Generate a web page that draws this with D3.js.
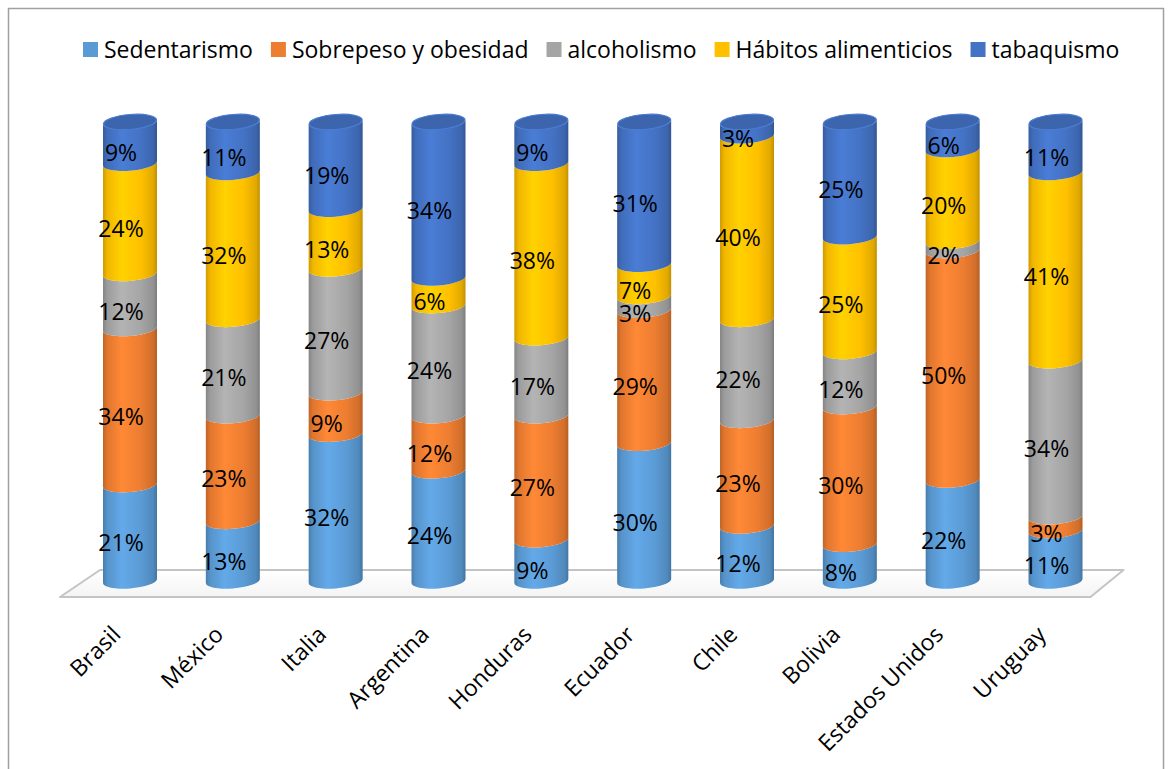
<!DOCTYPE html>
<html><head><meta charset="utf-8">
<script src="https://cdn.jsdelivr.net/npm/d3@7"></script>
<style>html,body{margin:0;padding:0;background:#fff;}svg{display:block;}</style>
</head><body>
<svg id="c" width="1175" height="769"></svg>
<script>
const countries = ["Brasil","México","Italia","Argentina","Honduras","Ecuador","Chile","Bolivia","Estados Unidos","Uruguay"];
const seriesNames = ["Sedentarismo","Sobrepeso y obesidad","alcoholismo","Hábitos alimenticios","tabaquismo"];
const sedentarismo = [21,13,32,24,9,30,12,8,22,11];
const sobrepeso    = [34,23,9,12,27,29,23,30,50,3];
const alcoholismo  = [12,21,27,24,17,3,22,12,2,34];
const habitos      = [24,32,13,6,38,7,40,25,20,41];
const tabaquismo   = [9,11,19,34,9,31,3,25,6,11];
const seriesColors = ["#5B9BD5","#ED7D31","#A5A5A5","#FFC000","#4472C4"];

const seriesValues = [sedentarismo, sobrepeso, alcoholismo, habitos, tabaquismo];
const FONT = "'Open Sans', sans-serif";
const FS = 23;

const svg = d3.select("#c");
const defs = svg.append("defs");

// chart border
svg.append("rect").attr("x",8.5).attr("y",8.5).attr("width",1155).attr("height",800)
  .attr("fill","#fff").attr("stroke","#a0a0a0").attr("stroke-width",1.5);

const x = d3.scalePoint().domain(countries).range([130, 1055.5]);
const y = d3.scaleLinear().domain([0,100]).range([581,122]);
const rx = 27, ry = 7.5;

// gradients
seriesColors.forEach((c,i)=>{
  const g = defs.append("linearGradient").attr("id","g"+i).attr("x1","0%").attr("x2","100%").attr("y1","0%").attr("y2","0%");
  const base = d3.color(c);
  [[0, base.darker(0.6)],[0.08, base.darker(0.15)],[0.35, base.brighter(0.25)],[0.7, base],[0.93, base.darker(0.35)],[1, base.darker(0.8)]]
    .forEach(([o,col])=>g.append("stop").attr("offset",o).attr("stop-color",col.formatHex()));
});
const floorGrad = defs.append("linearGradient").attr("id","floorG").attr("x1","0").attr("x2","0").attr("y1","0").attr("y2","1");
floorGrad.append("stop").attr("offset",0).attr("stop-color","#ffffff");
floorGrad.append("stop").attr("offset",1).attr("stop-color","#f4f4f4");

// floor
const x0 = x(countries[0]), x1 = x(countries[countries.length-1]);
const floorTop = y(0) - 11, floorBot = y(0) + 16;
svg.append("path")
  .attr("d", `M${x0-70},${floorBot} L${x0-30},${floorTop} L${x1+68},${floorTop} L${x1+35},${floorBot} Z`)
  .attr("fill","url(#floorG)").attr("stroke","#c4c4c4").attr("stroke-width",2).attr("stroke-linejoin","round");

// stacked data
const stackData = countries.map((c,ci)=>{
  let acc = 0;
  return seriesValues.map((arr,si)=>{ const s={country:c, si, v:arr[ci], y0:acc, y1:acc+arr[ci]}; acc+=arr[ci]; return s; });
});

const bars = svg.append("g").selectAll("g.bar").data(stackData).join("g")
  .attr("class","bar")
  .attr("transform", d => { const cx = x(d[0].country); return `translate(${cx},0) skewY(-4.5) translate(${-cx},0)`; });

function segPath(cx, yT, yB){
  return `M${cx-rx},${yT} A${rx},${ry} 0 0 0 ${cx+rx},${yT} L${cx+rx},${yB} A${rx},${ry} 0 0 1 ${cx-rx},${yB} Z`;
}
bars.selectAll("path.seg").data(d=>d.filter(s=>s.v>0)).join("path")
  .attr("class","seg")
  .attr("d", s => segPath(x(s.country), y(s.y1), y(s.y0)))
  .attr("fill", s => `url(#g${s.si})`);

// top cap
bars.append("ellipse")
  .attr("cx", d=>x(d[0].country))
  .attr("cy", d=>y(d[d.length-1].y1))
  .attr("rx", rx-0.5).attr("ry", ry)
  .attr("fill", d=>d3.color(seriesColors[d[d.length-1].si]).darker(0.35).formatHex())
  .attr("stroke", d=>d3.color(seriesColors[d[d.length-1].si]).brighter(0.2).formatHex())
  .attr("stroke-width",1.2);

// data labels
const labels = svg.append("g");
stackData.forEach(d=>{
  d.filter(s=>s.v>0).forEach(s=>{
    labels.append("text")
      .attr("x", x(s.country) - 9)
      .attr("y", (y(s.y0)+y(s.y1))/2 + 9.5)
      .attr("text-anchor","middle").attr("dominant-baseline","central")
      .attr("font-family",FONT).attr("font-size",FS).attr("fill","#000")
      .text(s.v + "%");
  });
});

// category labels
svg.append("g").selectAll("text").data(countries).join("text")
  .attr("transform", c => `translate(${x(c)-8},${636}) rotate(-45)`)
  .attr("text-anchor","end")
  .attr("font-family",FONT).attr("font-size",FS).attr("fill","#000")
  .text(c=>c);

// legend
const leg = svg.append("g");
let lx = 83;
seriesNames.forEach((n,i)=>{
  leg.append("rect").attr("x",lx).attr("y",42).attr("width",15).attr("height",15).attr("fill",seriesColors[i]);
  const t = leg.append("text").attr("x",lx+21).attr("y",57.5)
    .attr("font-family",FONT).attr("font-size",FS).attr("fill","#000").text(n);
  lx += 21 + t.node().getComputedTextLength() + 18;
});
</script>
</body></html>
